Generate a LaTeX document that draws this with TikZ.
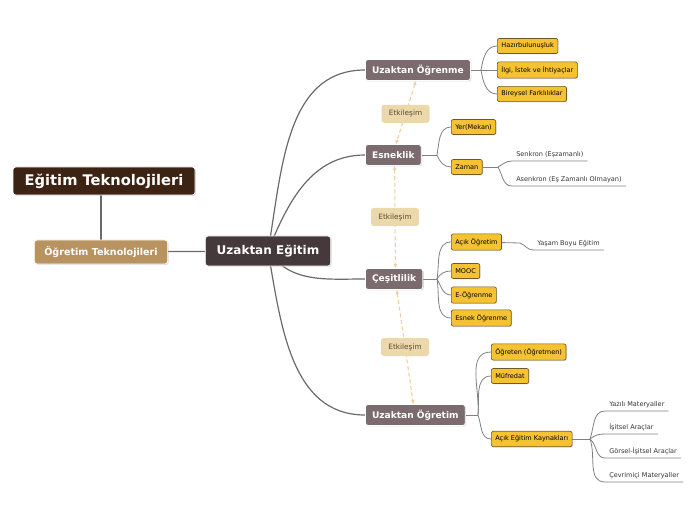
\documentclass[tikz,border=0pt]{standalone}
\usepackage{fontspec}
\setmainfont{DejaVu Sans}
\usetikzlibrary{shadows,backgrounds,arrows.meta}

\definecolor{rootbrown}{HTML}{3D2314}
\definecolor{subtan}{HTML}{B8935F}
\definecolor{hubgrey}{HTML}{45393C}
\definecolor{topicmauve}{HTML}{7B6B6E}
\definecolor{leafyellow}{HTML}{F5C232}
\definecolor{leafedge}{HTML}{6E5A25}
\definecolor{notetan}{HTML}{EBD8AB}
\definecolor{notetext}{HTML}{5B4B35}
\definecolor{linkdash}{HTML}{EFD09A}
\definecolor{linegrey}{HTML}{6A6A6A}

\begin{document}
\begin{tikzpicture}[x=0.75pt,y=0.75pt,
    box/.style={rectangle,rounded corners=2pt,draw=white,line width=0.6pt,text=white,
      drop shadow={opacity=0.3,shadow xshift=0.7pt,shadow yshift=-0.7pt}},
    root/.style={box,fill=rootbrown,font=\bfseries\fontsize{11}{13}\selectfont,
      minimum width=136.5pt,minimum height=21pt},
    sub/.style={box,fill=subtan,font=\bfseries\fontsize{7.2}{9}\selectfont,
      minimum width=100pt,minimum height=18pt},
    hub/.style={box,fill=hubgrey,font=\bfseries\fontsize{9}{11}\selectfont,
      minimum width=94pt,minimum height=22.5pt},
    topic/.style={box,fill=topicmauve,font=\bfseries\fontsize{6.8}{8}\selectfont,
      inner xsep=5pt,minimum height=15.75pt},
    leaf/.style={rectangle,rounded corners=1.5pt,fill=leafyellow,draw=leafedge,line width=0.5pt,
      font=\fontsize{4.9}{6}\selectfont,inner xsep=3pt,minimum height=11.25pt,
      drop shadow={opacity=0.25,shadow xshift=0.6pt,shadow yshift=-0.6pt}},
    plain/.style={font=\fontsize{4.9}{6}\selectfont,text=black!80,inner xsep=3pt,inner ysep=2.5pt},
    note/.style={rectangle,rounded corners=2pt,fill=notetan,text=notetext,
      font=\fontsize{5.5}{7}\selectfont,minimum width=36pt,minimum height=13.5pt},
    trunk/.style={draw=linegrey,line width=0.9pt},
    twig/.style={draw=linegrey!85,line width=0.6pt},
    link/.style={draw=linkdash,line width=0.8pt,dash pattern=on 3pt off 2pt,
      {Latex[length=3pt,width=3pt]}-{Latex[length=3pt,width=3pt]}}]

\useasboundingbox (0,0) rectangle (696,-520);

\node[root] (et) at (104,-181) {Eğitim Teknolojileri};
\node[sub] (ot) at (101,-252) {Öğretim Teknolojileri};
\node[hub] (ue) at (268,-251) {Uzaktan Eğitim};

\node[topic,anchor=west] (uog) at (365,-70) {Uzaktan Öğrenme};
\node[topic,anchor=west] (esn) at (365,-155) {Esneklik};
\node[topic,anchor=west] (cst) at (365,-279) {Çeşitlilik};
\node[topic,anchor=west] (uot) at (365,-415) {Uzaktan Öğretim};

\node[leaf,anchor=west] (hzr) at (497,-46) {Hazırbulunuşluk};
\node[leaf,anchor=west] (ilg) at (497,-70) {İlgi, İstek ve İhtiyaçlar};
\node[leaf,anchor=west] (bir) at (497,-94) {Bireysel Farklılıklar};
\node[leaf,anchor=west] (yer) at (451,-127) {Yer(Mekan)};
\node[leaf,anchor=west] (zmn) at (451,-167) {Zaman};
\node[leaf,anchor=west] (aco) at (451,-242) {Açık Öğretim};
\node[leaf,anchor=west] (mooc) at (451,-271) {MOOC};
\node[leaf,anchor=west] (eog) at (451,-295) {E-Öğrenme};
\node[leaf,anchor=west] (esg) at (451,-318) {Esnek Öğrenme};
\node[leaf,anchor=west] (ogr) at (491,-352) {Öğreten (Öğretmen)};
\node[leaf,anchor=west] (mfr) at (491,-376) {Müfredat};
\node[leaf,anchor=west] (aek) at (491,-439) {Açık Eğitim Kaynakları};

\node[plain,anchor=south west] (snk) at (512,-161) {Senkron (Eşzamanlı)};
\node[plain,anchor=south west] (asn) at (512,-186) {Asenkron (Eş Zamanlı Olmayan)};
\node[plain,anchor=south west] (ysm) at (533,-250) {Yaşam Boyu Eğitim};
\node[plain,anchor=south west] (yzl) at (605,-411) {Yazılı Materyaller};
\node[plain,anchor=south west] (isl) at (605,-434) {İşitsel Araçlar};
\node[plain,anchor=south west] (grs) at (605,-458) {Görsel-İşitsel Araçlar};
\node[plain,anchor=south west] (cvr) at (605,-482) {Çevrimiçi Materyaller};

\coordinate (f1) at (481,-70);
\coordinate (f2) at (437,-155);
\coordinate (f3) at (437,-279);
\coordinate (f4) at (478,-415);
\coordinate (f5) at (498,-167);
\coordinate (f6) at (520,-243);
\coordinate (f7) at (590,-439);

\begin{scope}[on background layer]
\draw[trunk] (ot.north) -- (ot.north |- et.south);
\draw[trunk] (ot) -- (ue);
\draw[trunk] (ue.center) to[out=80,in=180] (uog.west);
\draw[trunk] (ue.center) to[out=68,in=180] (esn.west);
\draw[trunk] (ue.center) to[out=-55,in=180] (cst.west);
\draw[trunk] (ue.center) to[out=-80,in=180] (uot.west);

\draw[twig] (uog) -- (f1);
\draw[twig] (f1) to[out=80,in=180] (hzr.west);
\draw[twig] (f1) -- (ilg);
\draw[twig] (f1) to[out=-80,in=180] (bir.west);

\draw[twig] (esn) -- (f2);
\draw[twig] (f2) to[out=80,in=180] (yer.west);
\draw[twig] (f2) to[out=-70,in=180] (zmn.west);
\draw[twig] (zmn) -- (f5);
\draw[twig] (f5) to[out=30,in=180] (snk.south west) -- (snk.south east);
\draw[twig] (f5) to[out=-60,in=180] (asn.south west) -- (asn.south east);

\draw[twig] (cst) -- (f3);
\draw[twig] (f3) to[out=80,in=180] (aco.west);
\draw[twig] (f3) to[out=60,in=180] (mooc.west);
\draw[twig] (f3) to[out=-60,in=180] (eog.west);
\draw[twig] (f3) to[out=-80,in=180] (esg.west);
\draw[twig] (aco) -- (f6);
\draw[twig] (f6) to[out=-20,in=180] (ysm.south west) -- (ysm.south east);

\draw[twig] (uot) -- (f4);
\draw[twig] (f4) to[out=85,in=180] (ogr.west);
\draw[twig] (f4) to[out=85,in=180] (mfr.west);
\draw[twig] (f4) to[out=-70,in=180] (aek.west);
\draw[twig] (aek) -- (f7);
\draw[twig] (f7) to[out=70,in=180] (yzl.south west) -- (yzl.south east);
\draw[twig] (f7) to[out=40,in=180] (isl.south west) -- (isl.south east);
\draw[twig] (f7) to[out=-40,in=180] (grs.south west) -- (grs.south east);
\draw[twig] (f7) to[out=-70,in=180] (cvr.south west) -- (cvr.south east);

\draw[link] ([xshift=-1.5pt]uog.south) -- node[note,pos=0.52] (n1) {Etkileşim} ([xshift=2pt]esn.north);
\draw[link] ([xshift=1pt]esn.south) -- node[note] (n2) {Etkileşim} ([xshift=1pt]cst.north);
\draw[link] ([xshift=2pt]cst.south) -- node[note,pos=0.5] (n3) {Etkileşim} ([xshift=-1.5pt]uot.north);
\end{scope}
\end{tikzpicture}
\end{document}
